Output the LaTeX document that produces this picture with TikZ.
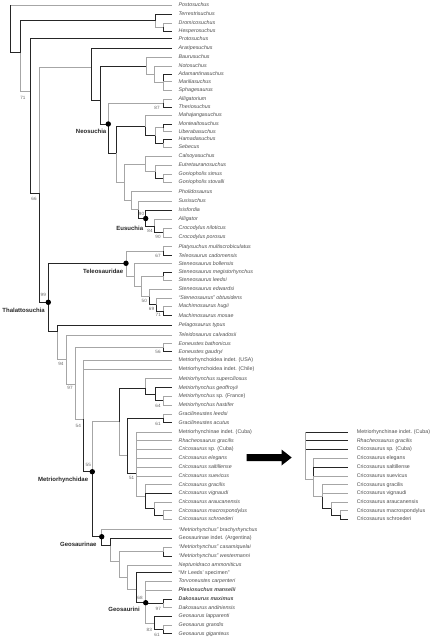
\documentclass[tikz,border=0pt]{standalone}
\usepackage{fontspec}
\setmainfont{Liberation Sans}
\tikzset{
 k/.style={draw=black!85, line width=0.55pt},
 g/.style={draw=black!35, line width=0.9pt},
 lf/.style={anchor=west, inner sep=0pt, text height=3.8pt, text depth=1.1pt, font=\fontsize{5.3}{6}\selectfont, text=black!70},
 sv/.style={inner sep=0pt, font=\fontsize{4.6}{5}\selectfont, text=black!60},
 cl/.style={anchor=east, inner sep=0pt, font=\bfseries\fontsize{6}{7}\selectfont, text=black!85},
 cdot/.style={circle, fill=black, inner sep=0pt, minimum size=5.4pt},
}
\newcommand\lfx[3]{\coordinate (e#1) at (172,#2); \node[lf] (t#1) at (178.5,#2) {#3};}
\newcommand\ilfx[3]{\coordinate (ie#1) at (348.3,#2); \node[lf] (it#1) at (356.7,#2) {#3};}
\begin{document}
\begin{tikzpicture}[x=1pt,y=-1pt]
\useasboundingbox (0,0) rectangle (432,640);
% leaves
\lfx{1}{5}{\textit{Postosuchus}}
\lfx{2}{14}{\textit{Terrestrisuchus}}
\lfx{3}{23}{\textit{Dromicosuchus}}
\lfx{4}{31}{\textit{Hesperosuchus}}
\lfx{5}{38.7}{\textit{Protosuchus}}
\lfx{6}{48}{\textit{Araripesuchus}}
\lfx{7}{57.2}{\textit{Baurusuchus}}
\lfx{8}{66}{\textit{Notosuchus}}
\lfx{9}{74}{\textit{Adamantinasuchus}}
\lfx{10}{81.7}{\textit{Mariliasuchus}}
\lfx{11}{90}{\textit{Sphagesaurus}}
\lfx{12}{99}{\textit{Alligatorium}}
\lfx{13}{107.5}{\textit{Theriosuchus}}
\lfx{14}{115.5}{\textit{Mahajangasuchus}}
\lfx{15}{124}{\textit{Montealtosuchus}}
\lfx{16}{131.7}{\textit{Uberabasuchus}}
\lfx{17}{139.5}{\textit{Hamadasuchus}}
\lfx{18}{147.3}{\textit{Sebecus}}
\lfx{19}{156.3}{\textit{Calsoyasuchus}}
\lfx{20}{165.3}{\textit{Eutretauranosuchus}}
\lfx{21}{174}{\textit{Goniopholis simus}}
\lfx{22}{182}{\textit{Goniopholis stovalli}}
\lfx{23}{191.7}{\textit{Pholidosaurus}}
\lfx{24}{201}{\textit{Susisuchus}}
\lfx{25}{210}{\textit{Isisfordia}}
\lfx{26}{219.3}{\textit{Alligator}}
\lfx{27}{228.3}{\textit{Crocodylus niloticus}}
\lfx{28}{237}{\textit{Crocodylus porosus}}
\lfx{29}{246.7}{\textit{Platysuchus multiscrobiculatus}}
\lfx{30}{255.7}{\textit{Teleosaurus cadomensis}}
\lfx{31}{263.7}{\textit{Steneosaurus bollensis}}
\lfx{32}{272}{\textit{Steneosaurus megistorhynchus}}
\lfx{33}{280}{\textit{Steneosaurus leedsi}}
\lfx{34}{289.3}{\textit{Steneosaurus edwardsi}}
\lfx{35}{298}{\textit{``Steneosaurus'' obtusidens}}
\lfx{36}{306.3}{\textit{Machimosaurus hugii}}
\lfx{37}{315.7}{\textit{Machimosaurus mosae}}
\lfx{38}{325}{\textit{Pelagosaurus typus}}
\lfx{39}{335}{\textit{Teleidosaurus calvadosii}}
\lfx{40}{343.7}{\textit{Eoneustes bathonicus}}
\lfx{41}{351.7}{\textit{Eoneustes gaudryi}}
\lfx{42}{360.3}{Metriorhynchoidea indet. (USA)}
\lfx{43}{369}{Metriorhynchoidea indet. (Chile)}
\lfx{44}{378.7}{\textit{Metriorhynchus superciliosus}}
\lfx{45}{387.7}{\textit{Metriorhynchus geoffroyii}}
\lfx{46}{396.3}{\textit{Metriorhynchus} sp. (France)}
\lfx{47}{405}{\textit{Metriorhynchus hastifer}}
\lfx{48}{414}{\textit{Gracilineustes leedsi}}
\lfx{49}{422.7}{\textit{Gracilineustes acutus}}
\lfx{50}{432.3}{Metriorhynchinae indet. (Cuba)}
\lfx{51}{440.7}{\textit{Rhacheosaurus gracilis}}
\lfx{52}{449.3}{\textit{Cricosaurus} sp. (Cuba)}
\lfx{53}{458.3}{\textit{Cricosaurus elegans}}
\lfx{54}{467}{\textit{Cricosaurus saltillense}}
\lfx{55}{476}{\textit{Cricosaurus suevicus}}
\lfx{56}{484.7}{\textit{Cricosaurus gracilis}}
\lfx{57}{493}{\textit{Cricosaurus vignaudi}}
\lfx{58}{502}{\textit{Cricosaurus araucanensis}}
\lfx{59}{510.7}{\textit{Cricosaurus macrospondylus}}
\lfx{60}{519.3}{\textit{Cricosaurus schroederi}}
\lfx{61}{529.7}{\textit{``Metriorhynchus'' brachyrhynchus}}
\lfx{62}{538.3}{Geosaurinae indet. (Argentina)}
\lfx{63}{547}{\textit{``Metriorhynchus'' casamiquelai}}
\lfx{64}{556}{\textit{``Metriorhynchus'' westermanni}}
\lfx{65}{565}{\textit{Neptunidraco ammoniticus}}
\lfx{66}{572.7}{``Mr Leeds' specimen''}
\lfx{67}{581}{\textit{Torvoneustes carpenteri}}
\lfx{68}{590}{\textbf{\textit{Plesiosuchus manselii}}}
\lfx{69}{599}{\textbf{\textit{Dakosaurus maximus}}}
\lfx{70}{607.7}{\textit{Dakosaurus andiniensis}}
\lfx{71}{616.3}{\textit{Geosaurus lapparenti}}
\lfx{72}{625.3}{\textit{Geosaurus grandis}}
\lfx{73}{633.7}{\textit{Geosaurus giganteus}}
% internal nodes
\coordinate (R) at (10,5);
\coordinate (A) at (20.7,52.7);
\coordinate (B) at (155,20.5);
\coordinate (B2) at (163.3,27);
\coordinate (C) at (30.3,91);
\coordinate (D) at (39.7,193);
\coordinate (E) at (91.5,67);
\coordinate (F) at (100,100);
\coordinate (G) at (146.7,66);
\coordinate (G2) at (154.7,74);
\coordinate (G3) at (163.3,82);
\coordinate (N) at (108.3,124);
\coordinate (H) at (163.3,103.3);
\coordinate (J) at (116,153.3);
\coordinate (I) at (145.7,126.5);
\coordinate (I2) at (155,135.6);
\coordinate (I3) at (163.3,127.85);
\coordinate (I4) at (163.3,143.4);
\coordinate (K) at (124,182.5);
\coordinate (L) at (145.7,164);
\coordinate (L2) at (155,171.7);
\coordinate (L3) at (163.3,178);
\coordinate (M) at (131.7,200.6);
\coordinate (M2) at (138.3,209.5);
\coordinate (Eu) at (145.7,218.5);
\coordinate (Eu2) at (154.3,226);
\coordinate (Eu3) at (163.3,232.65);
\coordinate (T) at (48.3,302.3);
\coordinate (Te) at (126,263.3);
\coordinate (P) at (163.3,251.2);
\coordinate (Q) at (134,276);
\coordinate (R2) at (141.7,286.5);
\coordinate (R3) at (163.3,276);
\coordinate (S) at (149,296.5);
\coordinate (U) at (156.7,304.5);
\coordinate (V) at (163.3,311);
\coordinate (W) at (57.7,331.7);
\coordinate (W2) at (66.7,359.3);
\coordinate (W3) at (75,384);
\coordinate (Eo) at (163.3,347.7);
\coordinate (W4) at (83.3,419.3);
\coordinate (M0) at (92.3,471.7);
\coordinate (MI) at (119,421.7);
\coordinate (MM) at (145.7,388);
\coordinate (MM2) at (155,394.2);
\coordinate (MM3) at (163.3,400.7);
\coordinate (RC) at (127.7,455);
\coordinate (Gr) at (163.3,418.3);
\coordinate (CR) at (136.7,473);
\coordinate (CG) at (145.7,496.6);
\coordinate (CG2) at (154.3,508.5);
\coordinate (CG3) at (163.3,515);
\coordinate (GE) at (101.7,536.7);
\coordinate (Z1) at (110,545.7);
\coordinate (Z2) at (119,561.7);
\coordinate (Cw) at (163.3,551.5);
\coordinate (Z3) at (127.7,577.3);
\coordinate (Y1) at (136.7,589.3);
\coordinate (GS) at (145.7,602.7);
\coordinate (Dk) at (163.3,603.3);
\coordinate (GG) at (154.3,623);
\coordinate (GG2) at (163.3,629.5);
% branches
\draw[g] (R) |- (e1); \draw[k] (R) |- (A);
\draw[k] (A) |- (B); \draw[g] (A) |- (C);
\draw[k] (B) |- (e2); \draw[g] (B) |- (B2);
\draw[g] (B2) |- (e3); \draw[k] (B2) |- (e4);
\draw[k] (C) |- (e5); \draw[k] (C) |- (D);
\draw[g] (D) |- (E); \draw[k] (D) |- (T);
\draw[k] (E) |- (e6); \draw[k] (E) |- (F);
\draw[k] (F) |- (G); \draw[k] (F) |- (N);
\draw[g] (G) |- (e7); \draw[g] (G) |- (G2);
\draw[g] (G2) |- (e8); \draw[g] (G2) |- (G3);
\draw[k] (G3) |- (e9); \draw[g] (G3) |- (e10); \draw[g] (G3) |- (e11);
\draw[g] (N) |- (H); \draw[k] (N) |- (J);
\draw[g] (H) |- (e12); \draw[k] (H) |- (e13);
\draw[k] (J) |- (I); \draw[g] (J) |- (K);
\draw[g] (I) |- (e14); \draw[k] (I) |- (I2);
\draw[g] (I2) |- (I3); \draw[k] (I2) |- (I4);
\draw[k] (I3) |- (e15); \draw[g] (I3) |- (e16);
\draw[k] (I4) |- (e17); \draw[g] (I4) |- (e18);
\draw[g] (K) |- (L); \draw[g] (K) |- (M);
\draw[g] (L) |- (e19); \draw[g] (L) |- (L2);
\draw[g] (L2) |- (e20); \draw[k] (L2) |- (L3);
\draw[g] (L3) |- (e21); \draw[g] (L3) |- (e22);
\draw[g] (M) |- (e23); \draw[g] (M) |- (M2);
\draw[g] (M2) |- (e24); \draw[k] (M2) |- (Eu);
\draw[k] (Eu) |- (e25); \draw[k] (Eu) |- (Eu2);
\draw[g] (Eu2) |- (e26); \draw[k] (Eu2) |- (Eu3);
\draw[g] (Eu3) |- (e27); \draw[g] (Eu3) |- (e28);
\draw[k] (T) |- (Te); \draw[k] (T) |- (W);
\draw[g] (Te) |- (P); \draw[g] (Te) |- (Q);
\draw[g] (P) |- (e29); \draw[k] (P) |- (e30);
\draw[g] (Q) |- (e31); \draw[g] (Q) |- (R2);
\draw[g] (R2) |- (R3); \draw[g] (R2) |- (S);
\draw[k] (R3) |- (e32); \draw[g] (R3) |- (e33);
\draw[g] (S) |- (e34); \draw[k] (S) |- (U);
\draw[g] (U) |- (e35); \draw[k] (U) |- (V);
\draw[g] (V) |- (e36); \draw[k] (V) |- (e37);
\draw[k] (W) |- (e38); \draw[g] (W) |- (W2);
\draw[g] (W2) |- (e39); \draw[g] (W2) |- (W3);
\draw[g] (W3) |- (Eo); \draw[g] (W3) |- (W4);
\draw[g] (Eo) |- (e40); \draw[k] (Eo) |- (e41);
\draw[g] (W4) |- (e42); \draw[g] (W4) |- (e43); \draw[k] (W4) |- (M0);
\draw[g] (M0) |- (MI); \draw[k] (M0) |- (GE);
\draw[k] (MI) |- (MM); \draw[g] (MI) |- (RC);
\draw[g] (MM) |- (e44); \draw[k] (MM) |- (MM2);
\draw[k] (MM2) |- (e45); \draw[k] (MM2) |- (MM3);
\draw[g] (MM3) |- (e46); \draw[g] (MM3) |- (e47);
\draw[k] (RC) |- (Gr); \draw[k] (RC) |- (CR);
\draw[g] (Gr) |- (e48); \draw[k] (Gr) |- (e49);
\foreach \i in {50,...,55} {\draw[g] (CR) |- (e\i);}
\draw[g] (CR) |- (CG);
\draw[g] (CG) |- (e56); \draw[k] (CG) |- (e57); \draw[k] (CG) |- (CG2);
\draw[g] (CG2) |- (e58); \draw[k] (CG2) |- (CG3);
\draw[g] (CG3) |- (e59); \draw[g] (CG3) |- (e60);
\draw[g] (GE) |- (e61); \draw[k] (GE) |- (Z1);
\draw[k] (Z1) |- (e62); \draw[g] (Z1) |- (Z2);
\draw[g] (Z2) |- (Cw); \draw[g] (Z2) |- (Z3);
\draw[g] (Cw) |- (e63); \draw[k] (Cw) |- (e64);
\draw[g] (Z3) |- (e65); \draw[g] (Z3) |- (Y1);
\draw[k] (Y1) |- (e66); \draw[k] (Y1) |- (GS);
\draw[g] (GS) |- (e67); \draw[g] (GS) |- (e68); \draw[k] (GS) |- (Dk); \draw[g] (GS) |- (GG);
\draw[k] (Dk) |- (e69); \draw[g] (Dk) |- (e70);
\draw[k] (GG) |- (e71); \draw[k] (GG) |- (GG2);
\draw[g] (GG2) |- (e72); \draw[k] (GG2) |- (e73);
% clade dots
\node[cdot] (dN) at (N) {};
\node[cdot] (dEu) at (Eu) {};
\node[cdot] (dTe) at (Te) {};
\node[cdot] (dT) at (T) {};
\node[cdot] (dM0) at (M0) {};
\node[cdot] (dGE) at (GE) {};
\node[cdot] (dGS) at (GS) {};
% clade names
\node[cl] (nN) at (106.5,131.3) {Neosuchia};
\node[cl] (nEu) at (143.3,228) {Eusuchia};
\node[cl] (nTe) at (123.3,271.7) {Teleosauridae};
\node[cl] (nT) at (45,310) {Thalattosuchia};
\node[cl] (nM0) at (88.3,479.5) {Metriorhynchidae};
\node[cl] (nGE) at (96.7,544.2) {Geosaurinae};
\node[cl] (nGS) at (140,609.3) {Geosaurini};
% support values
\node[sv] (s1) at (23,97.5) {71};
\node[sv] (s2) at (157,107.5) {87};
\node[sv] (s3) at (34,199) {66};
\node[sv] (s4) at (141.5,213.5) {90};
\node[sv] (s5) at (150,230.5) {84};
\node[sv] (s6) at (158,237) {90};
\node[sv] (s7) at (158,256) {67};
\node[sv] (s8) at (144.3,300.5) {50};
\node[sv] (s9) at (151.5,308.5) {69};
\node[sv] (s10) at (158.3,315.3) {71};
\node[sv] (s11) at (43.3,294.5) {99};
\node[sv] (s12) at (61,364) {94};
\node[sv] (s13) at (70,388) {97};
\node[sv] (s14) at (158,352) {56};
\node[sv] (s15) at (158,405.5) {64};
\node[sv] (s16) at (158,423.5) {61};
\node[sv] (s17) at (78.3,425.7) {54};
\node[sv] (s18) at (88.3,465) {55};
\node[sv] (s19) at (131.7,478) {51};
\node[sv] (s20) at (140,597.5) {68};
\node[sv] (s21) at (158.3,608.5) {97};
\node[sv] (s22) at (149.3,629.5) {83};
\node[sv] (s23) at (157,634.8) {61};
% arrow
\fill[black] (246.7,454) -- (281.5,454) -- (281.5,449.5) -- (291.7,457.5) -- (281.5,465.5) -- (281.5,461) -- (246.7,461) -- cycle;
% inset tree
\ilfx{1}{432.3}{Metriorhynchinae indet. (Cuba)}
\ilfx{2}{440.7}{\textit{Rhacheosaurus gracilis}}
\ilfx{3}{449.3}{Cricosaurus sp. (Cuba)}
\ilfx{4}{458.3}{Cricosaurus elegans}
\ilfx{5}{467}{Cricosaurus saltillense}
\ilfx{6}{476}{Cricosaurus suevicus}
\ilfx{7}{484.7}{Cricosaurus gracilis}
\ilfx{8}{493}{Cricosaurus vignaudi}
\ilfx{9}{502}{Cricosaurus araucanensis}
\ilfx{10}{510.7}{Cricosaurus macrospondylus}
\ilfx{11}{519.3}{Cricosaurus schroederi}
\coordinate (N1) at (305,432.3);
\coordinate (N2) at (313.3,479);
\coordinate (N3) at (322.7,496.6);
\coordinate (N4) at (331.7,508.5);
\coordinate (N5) at (340,515);
\draw[k] (N1) |- (ie1); \draw[k] (N1) |- (ie2); \draw[k] (N1) |- (ie3); \draw[g] (N1) |- (N2);
\draw[g] (N2) |- (ie4); \draw[k] (N2) |- (ie5); \draw[g] (N2) |- (ie6); \draw[g] (N2) |- (N3);
\draw[g] (N3) |- (ie7); \draw[g] (N3) |- (ie8); \draw[k] (N3) |- (N4);
\draw[g] (N4) |- (ie9); \draw[k] (N4) |- (N5);
\draw[g] (N5) |- (ie10); \draw[k] (N5) |- (ie11);
\end{tikzpicture}
\end{document}
